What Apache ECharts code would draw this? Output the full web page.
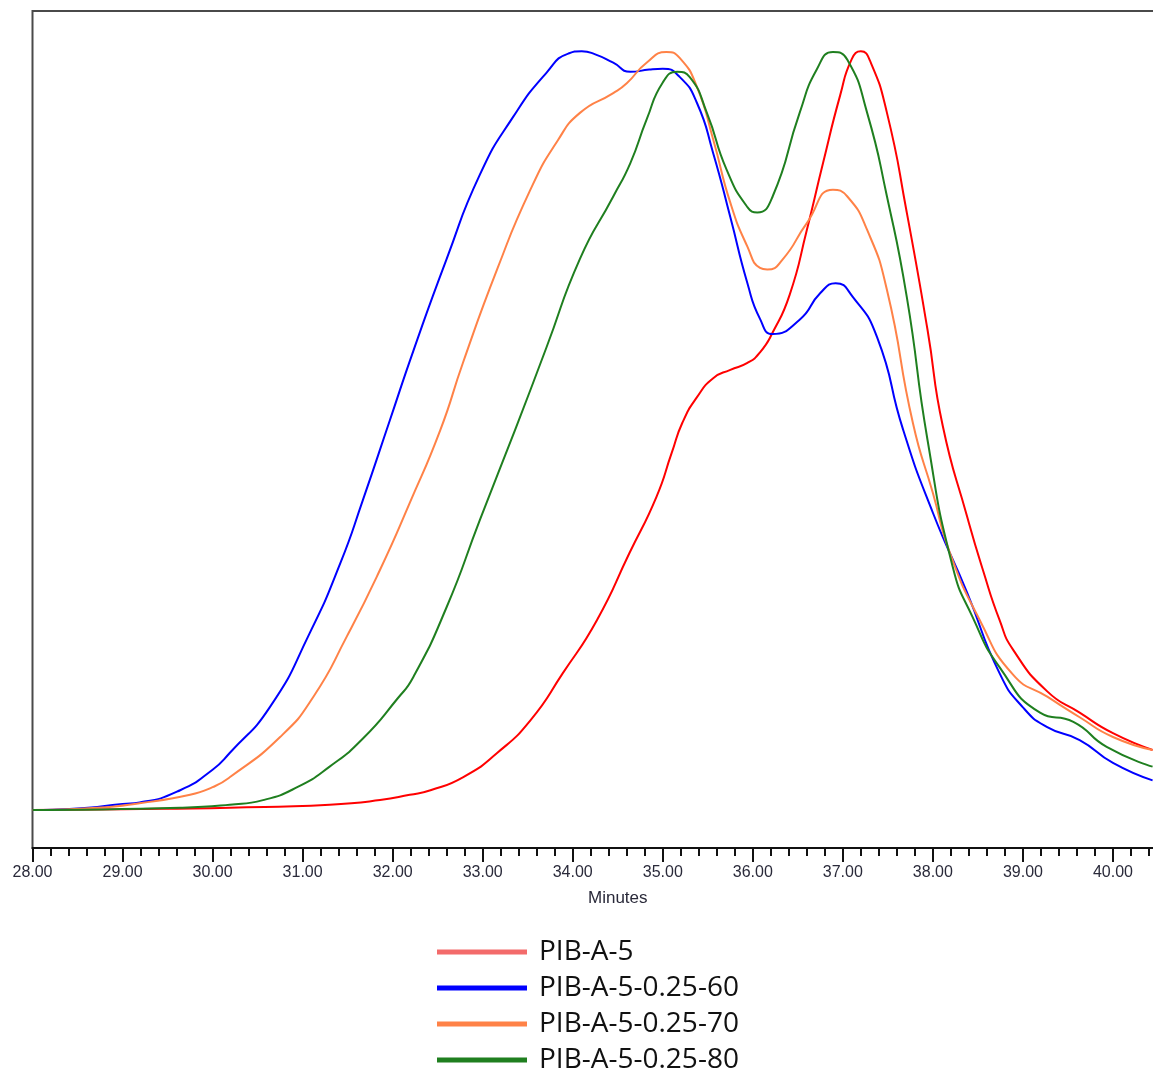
<!DOCTYPE html>
<html>
<head>
<meta charset="UTF-8">
<title>PIB chromatogram</title>
<script src="https://cdn.jsdelivr.net/npm/echarts@6/dist/echarts.min.js"></script>
<style>
  html, body { margin: 0; padding: 0; background: #fff; }
  #main { width: 1153px; height: 1073px; }
</style>
</head>
<body>
<div id="main"></div>
<script>
// series names (legend order)
var seriesNames = ['PIB-A-5', 'PIB-A-5-0.25-60', 'PIB-A-5-0.25-70', 'PIB-A-5-0.25-80'];
var seriesColors = ['#ff0000', '#0000ff', '#ff8247', '#1f7f1f'];

// [minutes, relative response]
var pibA5 = [
  [28.0, 0], [29.0, 0.1], [30.19, 0.3], [31.30, 0.7], [31.86, 1.3], [32.19, 2.0],
  [32.42, 2.6], [32.78, 4.3], [33.16, 7.5], [33.53, 11.8], [33.89, 18.0], [34.27, 25.0],
  [34.63, 33.8], [34.93, 41.2], [35.10, 47.0], [35.22, 51.0], [35.38, 54.3], [35.56, 56.8],
  [35.75, 57.9], [35.94, 58.8], [36.08, 60.2], [36.22, 62.8], [36.41, 67.8], [36.60, 76.3],
  [36.78, 85.1], [36.97, 94.0], [37.10, 98.8], [37.20, 99.8], [37.30, 98.6], [37.49, 91.7],
  [37.71, 78.6], [37.94, 63.2], [38.11, 50.5], [38.38, 38.6], [38.56, 31.4], [38.74, 25.0],
  [38.89, 21.1], [39.27, 15.6], [39.63, 12.8], [40.0, 10.1], [40.44, 7.9]
];
var pib60 = [
  [28.0, 0], [28.5, 0.2], [29.0, 0.8], [29.19, 1.0], [29.64, 2.6], [30.0, 5.3],
  [30.19, 7.5], [30.64, 13.6], [31.08, 23.3], [31.42, 32.5], [31.67, 40.8], [31.97, 51.3],
  [32.23, 60.4], [32.60, 72.5], [32.97, 83.6], [33.34, 91.2], [33.71, 97.0], [33.95, 99.5],
  [34.10, 99.8], [34.25, 99.4], [34.45, 98.3], [34.64, 97.1], [34.85, 97.4], [35.0, 97.5],
  [35.19, 96.4], [35.38, 93.0], [35.56, 86.4], [35.75, 78.0], [35.94, 69.3], [36.08, 64.6],
  [36.22, 62.6], [36.52, 64.5], [36.75, 68.0], [36.92, 69.3], [37.11, 67.5], [37.38, 62.2],
  [37.67, 50.0], [38.0, 39.1], [38.38, 28.6], [38.74, 18.0], [39.0, 13.5], [39.27, 10.9],
  [39.63, 9.2], [40.0, 6.2], [40.44, 3.9]
];
var pib70 = [
  [28.0, 0], [28.72, 0.3], [29.19, 0.9], [29.75, 2.0], [30.0, 3.0], [30.19, 4.3],
  [30.75, 9.6], [31.12, 14.9], [31.49, 22.8], [31.86, 31.6], [32.19, 40.4], [32.53, 50.0],
  [32.78, 58.8], [33.16, 71.1], [33.53, 81.6], [33.83, 88.0], [34.08, 91.7], [34.45, 94.3],
  [34.60, 95.6], [34.82, 98.3], [35.04, 99.7], [35.19, 98.9], [35.38, 95.1], [35.56, 88.2],
  [35.75, 79.9], [35.94, 74.1], [36.08, 71.3], [36.16, 71.1], [36.33, 72.4], [36.60, 77.2],
  [36.89, 81.6], [37.05, 80.7], [37.27, 76.3], [37.49, 68.4], [37.78, 50.8], [38.0, 41.7],
  [38.19, 33.8], [38.52, 25.0], [38.89, 17.8], [39.27, 14.9], [39.63, 12.2], [40.0, 9.6],
  [40.44, 7.9]
];
var pib80 = [
  [28.0, 0], [29.64, 0.3], [30.19, 0.7], [30.56, 1.3], [30.94, 3.0], [31.30, 5.7],
  [31.67, 9.4], [32.05, 14.6], [32.23, 17.5], [32.60, 26.7], [32.97, 38.2], [33.36, 50.0],
  [33.71, 60.9], [34.08, 72.5], [34.45, 80.7], [34.64, 85.1], [34.82, 90.8], [35.0, 95.7],
  [35.16, 97.1], [35.30, 96.4], [35.49, 91.7], [35.71, 84.2], [35.94, 79.3], [36.05, 78.6],
  [36.22, 80.7], [36.52, 91.7], [36.71, 97.4], [36.89, 99.7], [37.05, 98.7], [37.27, 91.7],
  [37.49, 80.7], [37.71, 67.5], [37.94, 48.7], [38.22, 32.0], [38.44, 25.4], [38.74, 18.8],
  [39.19, 12.8], [39.56, 11.6], [39.93, 8.3], [40.44, 5.7]
];
var seriesData = [pibA5, pib60, pib70, pib80];

var myChart = echarts.init(document.getElementById('main'));

var option = {
    animation: false,
    backgroundColor: '#ffffff',
    grid: {
        left: 32.5,
        top: 11,
        width: 1170.5,      // runs past the right edge, like the cropped original
        height: 837,
        containLabel: false,
        outerBoundsMode: 'none',
        show: true,
        borderColor: '#4a4a4a',
        borderWidth: 2
    },
    legend: {
        orient: 'vertical',
        left: 437,
        top: 938,
        height: 170,
        padding: 0,
        icon: 'rect',
        itemWidth: 90,
        itemHeight: 5,
        itemGap: 8,
        textStyle: { fontFamily: 'Open Sans', fontSize: 28, color: '#111', padding: [0, 0, 0, 7] },
        data: [
            { name: seriesNames[0], itemStyle: { color: '#f36b6b' } },
            seriesNames[1], seriesNames[2], seriesNames[3]
        ]
    },
    xAxis: {
        type: 'value',
        min: 28,
        max: 41,
        interval: 1,
        name: 'Minutes',
        nameLocation: 'middle',
        nameGap: 42,
        nameTextStyle: { fontFamily: 'Liberation Sans', fontSize: 17, color: '#2a2a3a' },
        axisLine: { show: true, onZero: false, lineStyle: { color: '#111', width: 2 } },
        axisTick: { show: true, length: 14, lineStyle: { color: '#111', width: 2 } },
        minorTick: { show: true, splitNumber: 5, length: 8, lineStyle: { color: '#111', width: 2 } },
        axisLabel: {
            margin: 17,
            fontFamily: 'Liberation Sans',
            fontSize: 16,
            color: '#2a2a3a',
            formatter: function (v) { return v.toFixed(2); }
        },
        splitLine: { show: false }
    },
    yAxis: {
        type: 'value',
        min: -5,
        max: 105.1,
        axisLine: { show: false },
        axisTick: { show: false },
        axisLabel: { show: false },
        splitLine: { show: false }
    },
    series: seriesNames.map(function (name, i) {
        return {
            name: name,
            type: 'line',
            data: seriesData[i],
            smooth: 0.55,
            showSymbol: false,
            clip: true,
            color: seriesColors[i],
            lineStyle: { width: 2, color: seriesColors[i] }
        };
    })
};

myChart.setOption(option);
</script>
</body>
</html>
